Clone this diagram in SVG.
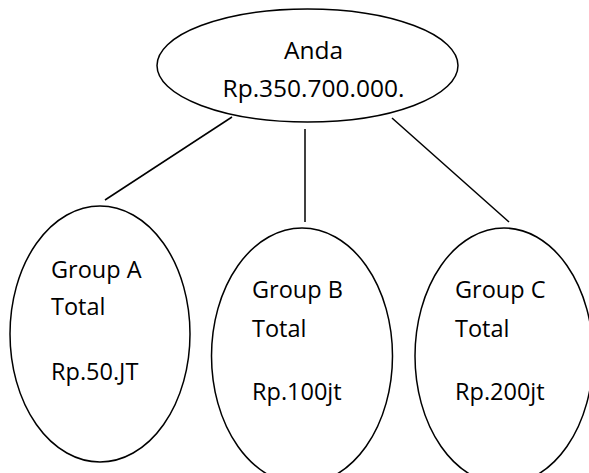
<svg xmlns="http://www.w3.org/2000/svg" width="589" height="473" viewBox="0 0 589 473">
<style>
.n{fill:#fff;stroke:#000;stroke-width:1.5}
.e{stroke:#000;stroke-width:1.5;fill:none}
text{font-family:"Open Sans","Noto Sans",sans-serif;font-size:23.5px;fill:#000}
.t{font-size:24.5px}
</style>
<rect width="589" height="473" fill="#fff"/>
<g id="connectors">
<line class="e" x1="232" y1="117" x2="105" y2="200"/>
<line class="e" x1="305" y1="129" x2="305" y2="222"/>
<line class="e" x1="392" y1="118" x2="509" y2="222"/>
</g>
<g id="anda">
<ellipse class="n" cx="307.5" cy="65.5" rx="150.5" ry="56.5"/>
<text class="t" x="313.5" y="59" text-anchor="middle">Anda</text>
<text class="t" x="313.5" y="97" text-anchor="middle">Rp.350.700.000.</text>
</g>
<g id="groupA">
<ellipse class="n" cx="100" cy="334" rx="90" ry="128"/>
<text x="51" y="278">Group A</text>
<text x="51" y="315">Total</text>
<text x="51" y="380">Rp.50.JT</text>
</g>
<g id="groupB">
<ellipse class="n" cx="302" cy="356" rx="90.5" ry="128"/>
<text x="252" y="298">Group B</text>
<text x="252" y="337">Total</text>
<text x="252" y="400">Rp.100jt</text>
</g>
<g id="groupC">
<ellipse class="n" cx="504" cy="356" rx="89" ry="128"/>
<text x="455" y="298">Group C</text>
<text x="455" y="337">Total</text>
<text x="455" y="400">Rp.200jt</text>
</g>
</svg>
